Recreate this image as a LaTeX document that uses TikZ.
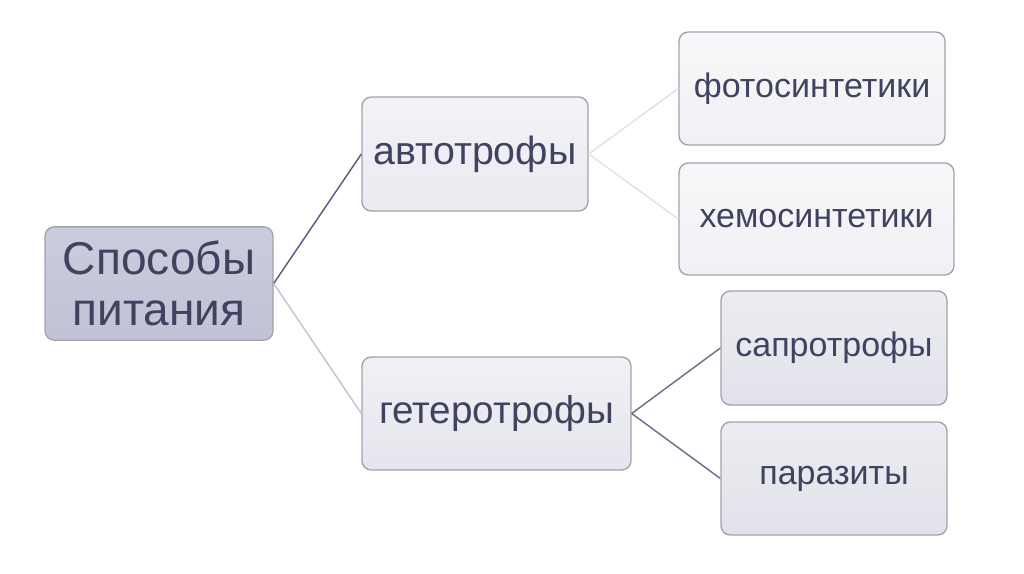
\documentclass[tikz,border=0pt]{standalone}
\usepackage{fontspec}
\setmainfont{Liberation Sans}
\usetikzlibrary{shadings}
\definecolor{txt}{HTML}{41425F}
\definecolor{brd}{HTML}{A2A2AC}
\begin{document}
\begin{tikzpicture}[x=0.75pt,y=-0.75pt,
  box/.style={draw=brd,line width=1pt,rounded corners=7pt,inner sep=0pt,align=center,text=txt},
  lnk/.style={line width=1.1pt}]
\fill[white] (0,0) rectangle (1024,574);
\useasboundingbox (0,0) rectangle (1024,574);
% root
\node[box,top color={rgb,255:red,203;green,204;blue,221},bottom color={rgb,255:red,193;green,194;blue,214},
  minimum width=171pt,minimum height=85pt,font=\fontsize{34.5}{38}\selectfont] (root) at (159,283.5) {Способы\\питания};
\node[box,top color={rgb,255:red,242;green,242;blue,247},bottom color={rgb,255:red,234;green,234;blue,241},
  minimum width=169.5pt,minimum height=85.5pt,font=\fontsize{29.5}{32}\selectfont] (auto) at (475,154) {автотрофы};
\node[box,top color={rgb,255:red,240;green,240;blue,245},bottom color={rgb,255:red,229;green,229;blue,237},
  minimum width=201.75pt,minimum height=84.75pt,font=\fontsize{29}{32}\selectfont] (hetero) at (496.5,413.5) {гетеротрофы};
\node[box,top color={rgb,255:red,248;green,248;blue,250},bottom color={rgb,255:red,240;green,240;blue,245},
  minimum width=199.5pt,minimum height=84.75pt,font=\fontsize{25.5}{28}\selectfont] (photo) at (812,88.5) {фотосинтетики};
\node[box,top color={rgb,255:red,248;green,248;blue,250},bottom color={rgb,255:red,240;green,240;blue,245},
  minimum width=206.25pt,minimum height=84pt,font=\fontsize{25.5}{28}\selectfont] (chemo) at (816.5,219) {хемосинтетики};
\node[box,top color={rgb,255:red,236;green,236;blue,242},bottom color={rgb,255:red,226;green,226;blue,234},
  minimum width=169.5pt,minimum height=85.5pt,font=\fontsize{25.5}{28}\selectfont] (sapro) at (834,348) {сапротрофы};
\node[box,top color={rgb,255:red,236;green,236;blue,242},bottom color={rgb,255:red,226;green,226;blue,234},
  minimum width=169.5pt,minimum height=84.75pt,font=\fontsize{25.5}{28}\selectfont] (para) at (834,478.5) {паразиты};
% connectors
\draw[lnk,draw={rgb,255:red,92;green,93;blue,126}] (root.east) -- (auto.west);
\draw[lnk,draw={rgb,255:red,196;green,196;blue,212}] (root.east) -- (hetero.west);
\draw[lnk,draw={rgb,255:red,226;green,226;blue,232}] (auto.east) -- (photo.west);
\draw[lnk,draw={rgb,255:red,226;green,226;blue,232}] (auto.east) -- (chemo.west);
\draw[lnk,draw={rgb,255:red,112;green,112;blue,142}] (hetero.east) -- (sapro.west);
\draw[lnk,draw={rgb,255:red,112;green,112;blue,142}] (hetero.east) -- (para.west);
\end{tikzpicture}
\end{document}
